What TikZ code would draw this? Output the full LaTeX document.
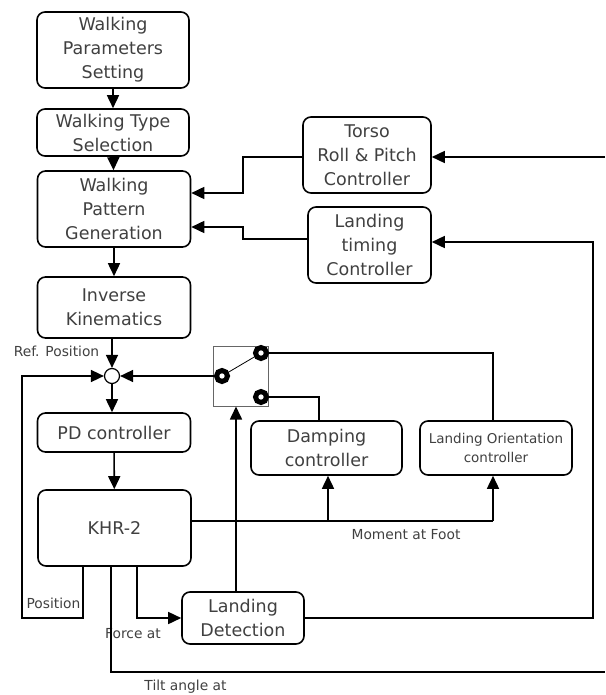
\documentclass[tikz,border=0pt]{standalone}
\usepackage{fontspec}
\setmainfont{DejaVu Sans}
\usetikzlibrary{arrows.meta}

\begin{document}
\begin{tikzpicture}[x=1pt, y=-1pt, line width=1.6pt, >={Triangle[length=13pt, width=12pt]}]
\tikzstyle{block} = [draw, rounded corners=8pt, align=center, inner sep=0pt, text=black!75, font=\fontsize{17.5}{24}\selectfont]
\tikzstyle{small} = [draw, rounded corners=8pt, align=center, inner sep=0pt, text=black!75, font=\fontsize{13.5}{19}\selectfont]
\tikzstyle{tag} = [inner sep=0pt, text=black!75, font=\fontsize{13.8}{15}\selectfont]
\tikzstyle{term} = [shape = circle, draw, fill = white, minimum size = 11pt, inner sep = 0pt, line width = 5pt]
\useasboundingbox (0, 0) rectangle (605, 695);
% left column
\node[block, minimum width = 152pt, minimum height = 76pt] (wps) at (113, 50) {Walking\\Parameters\\Setting};
\node[block, minimum width = 152pt, minimum height = 47pt] (wts) at (113, 132.5) {Walking Type\\Selection};
\node[block, minimum width = 153pt, minimum height = 76pt] (wpg) at (114, 209) {Walking\\Pattern\\Generation};
\node[block, minimum width = 153pt, minimum height = 61pt] (ik) at (114, 307.5) {Inverse\\Kinematics};
\node[shape = circle, draw, line width = 1.2pt, minimum size = 15pt, inner sep = 0pt] (sum) at (112, 376) {};
\node[block, minimum width = 153pt, minimum height = 39pt] (pd) at (114, 432.5) {PD controller};
\node[block, minimum width = 153pt, minimum height = 76pt] (khr) at (114.5, 528) {KHR-2};
% right side
\node[block, minimum width = 128pt, minimum height = 76pt] (torso) at (367, 155) {Torso\\Roll \& Pitch\\Controller};
\node[block, minimum width = 123pt, minimum height = 76pt] (ltc) at (369.5, 245) {Landing\\timing\\Controller};
\node[block, minimum width = 151pt, minimum height = 54pt] (damp) at (326.5, 448) {Damping\\controller};
\node[small, minimum width = 152pt, minimum height = 54pt] (loc) at (496, 448) {Landing Orientation\\controller};
\node[block, minimum width = 122pt, minimum height = 52pt] (ld) at (243, 618) {Landing\\Detection};
\node[draw = black!60, line width = 1pt, minimum width = 55pt, minimum height = 60pt, inner sep = 0pt] (sw) at (240.5, 376) {};
% labels
\node[tag, anchor = east] (rp) at (100, 351) {Ref. Position};
\node[tag] (pos) at (53.5, 603) {Position};
\node[tag] (frc) at (133, 634) {Force at};
\node[tag] (tilt) at (185.5, 687) {Tilt angle at};
\node[tag] (mom) at (406, 535) {Moment at Foot};
% points
\coordinate (swl) at (222, 376);
\coordinate (swt) at (261, 353);
\coordinate (swb) at (261, 397);
\coordinate (tw-1) at (243, 157);
\coordinate (tw-2) at (243, 193);
\coordinate (lw-1) at (243, 239);
\coordinate (lw-2) at (243, 227);
\coordinate (to-1) at (605, 157);
\coordinate (lt-1) at (593, 618);
\coordinate (lt-2) at (593, 242);
\coordinate (fb-1) at (83, 618);
\coordinate (fb-2) at (22, 618);
\coordinate (fb-3) at (22, 376);
\coordinate (fc-1) at (137, 618);
\coordinate (tl-1) at (111, 672);
\coordinate (tl-2) at (605, 672);
\coordinate (mf-1) at (328, 521);
\coordinate (mf-2) at (493, 521);
\coordinate (ld-1) at (236, 592);
\coordinate (dm-1) at (319, 397);
\coordinate (lo-1) at (493, 353);
% connectors
\draw[->] (wps) -- (wts);
\draw[->] (wts) -- (wpg);
\draw[->] (wpg) -- (ik);
\draw[->] (sum |- ik.south) -- (sum);
\draw[->] (sum) -- (sum |- pd.north);
\draw[->] (pd) -- (khr);
\draw[->] (torso.west |- tw-1) -- (tw-1) -- (tw-2) -- (wpg.east |- tw-2);
\draw[->] (ltc.west |- lw-1) -- (lw-1) -- (lw-2) -- (wpg.east |- lw-2);
\draw[->] (to-1) -- (torso.east |- to-1);
\draw[->] (ld.east) -- (lt-1) -- (lt-2) -- (ltc.east |- lt-2);
\draw[->] (khr.south -| fb-1) -- (fb-1) -- (fb-2) -- (fb-3) -- (sum);
\draw[->] (khr.south -| fc-1) -- (fc-1) -- (ld.west |- fc-1);
\draw[] (khr.south -| tl-1) -- (tl-1) -- (tl-2);
\draw[] (khr.east |- mf-1) -- (mf-2);
\draw[->] (mf-1) -- (damp.south -| mf-1);
\draw[->] (mf-2) -- (loc.south -| mf-2);
\draw[->] (ld-1) -- (sw.south -| ld-1);
\draw[->] (swl) -- (sum);
\draw[] (swb) -- (dm-1) -- (damp.north -| dm-1);
\draw[] (swt) -- (lo-1) -- (loc.north -| lo-1);
% switch
\draw[line width = 0.8pt] (swl) -- (swt);
\node[term] (t-1) at (swl) {};
\node[term] (t-2) at (swt) {};
\node[term] (t-3) at (swb) {};
\end{tikzpicture}
\end{document}
